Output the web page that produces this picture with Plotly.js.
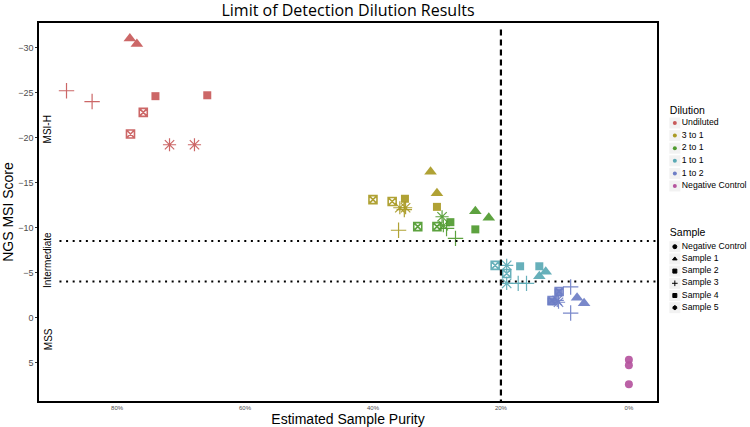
<!DOCTYPE html>
<html>
<head>
<meta charset="utf-8">
<script src="https://cdn.plot.ly/plotly-3.0.1.min.js"></script>
<style>
  html, body { margin: 0; padding: 0; background: #fff; }
  #plot { width: 750px; height: 427px; }
</style>
</head>
<body>
<div id="plot"></div>
<script>
// Data (purity as a fraction, score as plotted).
const dilutionNames = ['Undiluted', '3 to 1', '2 to 1', '1 to 1', '1 to 2', 'Negative Control'];
const sampleNames = ['Negative Control', 'Sample 1', 'Sample 2', 'Sample 3', 'Sample 4', 'Sample 5'];
const dilutionColors = ['#c85a5a', '#a99a24', '#4f9a2f', '#5aa9b4', '#6e7ec6', '#b5549e'];

const pointDilution = [
  'Undiluted', 'Undiluted', 'Undiluted', 'Undiluted', 'Undiluted',
  'Undiluted', 'Undiluted', 'Undiluted', 'Undiluted', 'Undiluted',
  '3 to 1', '3 to 1', '3 to 1', '3 to 1', '3 to 1',
  '3 to 1', '3 to 1', '3 to 1', '3 to 1', '3 to 1',
  '2 to 1', '2 to 1', '2 to 1', '2 to 1', '2 to 1',
  '2 to 1', '2 to 1', '2 to 1', '2 to 1', '2 to 1',
  '1 to 1', '1 to 1', '1 to 1', '1 to 1', '1 to 1',
  '1 to 1', '1 to 1', '1 to 1', '1 to 1', '1 to 1',
  '1 to 2', '1 to 2', '1 to 2', '1 to 2', '1 to 2',
  '1 to 2', '1 to 2', '1 to 2', '1 to 2', '1 to 2',
  'Negative Control', 'Negative Control', 'Negative Control'
];
const pointSample = [
  'Sample 1', 'Sample 1', 'Sample 2', 'Sample 2', 'Sample 3',
  'Sample 3', 'Sample 4', 'Sample 4', 'Sample 5', 'Sample 5',
  'Sample 1', 'Sample 1', 'Sample 2', 'Sample 2', 'Sample 3',
  'Sample 3', 'Sample 4', 'Sample 4', 'Sample 5', 'Sample 5',
  'Sample 1', 'Sample 1', 'Sample 2', 'Sample 2', 'Sample 3',
  'Sample 3', 'Sample 4', 'Sample 4', 'Sample 5', 'Sample 5',
  'Sample 1', 'Sample 1', 'Sample 2', 'Sample 2', 'Sample 3',
  'Sample 3', 'Sample 4', 'Sample 4', 'Sample 5', 'Sample 5',
  'Sample 1', 'Sample 1', 'Sample 2', 'Sample 2', 'Sample 3',
  'Sample 3', 'Sample 4', 'Sample 4', 'Sample 5', 'Sample 5',
  'Negative Control', 'Negative Control', 'Negative Control'
];
const pointPurity = [
  0.780, 0.769, 0.740, 0.659, 0.879, 0.839, 0.759, 0.779, 0.718, 0.679,
  0.310, 0.300, 0.350, 0.300, 0.360, 0.351, 0.400, 0.370, 0.358, 0.349,
  0.240, 0.219, 0.240, 0.279, 0.271, 0.285, 0.330, 0.300, 0.292, 0.290,
  0.140, 0.130, 0.170, 0.140, 0.173, 0.160, 0.209, 0.191, 0.191, 0.191,
  0.081, 0.070, 0.110, 0.121, 0.091, 0.091, 0.109, 0.120, 0.112, 0.110,
  0.000, 0.000, 0.000
];
const pointScore = [
  -31.0, -30.4, -24.6, -24.7, -25.2, -24.0, -22.8, -20.4, -19.2, -19.2,
  -16.2, -13.8, -13.2, -12.3, -9.7, -12.0, -13.1, -12.9, -12.2, -12.2,
  -11.8, -11.1, -9.8, -10.6, -8.8, -9.9, -10.1, -10.1, -11.2, -10.2,
  -4.6, -5.1, -5.7, -5.7, -3.8, -3.8, -5.8, -4.9, -5.8, -3.8,
  -2.2, -1.6, -2.8, -1.8, -3.4, -0.5, -2.9, -1.9, -1.9, -1.7,
  4.7, 5.3, 7.4
];

const xTicks = [0.8, 0.6, 0.4, 0.2, 0];
const yTicks = [-30, -25, -20, -15, -10, -5, 0, 5];

const zoneNames = ['MSI-H', 'Intermediate', 'MSS'];
const zoneScore = [-20.9, -6.4, 2.4];
const cutoffScores = [-8.5, -4];
const cutoffPurity = 0.2;

// Marker look for each sample shape.
const sampleStyle = {
  'Negative Control': { symbol: 'circle', size: 8, lw: 0 },
  'Sample 1': { symbol: 'triangle-up', size: 11, lw: 0 },
  'Sample 2': { symbol: 'square', size: 8, lw: 0 },
  'Sample 3': { symbol: 'cross-thin-open', size: 11, lw: 1.2 },
  'Sample 4': { symbol: 'square-x-open', size: 8, lw: 1.6 },
  'Sample 5': { symbol: 'asterisk-open', size: 11, lw: 1.2 },
};
const legendSymbols = ['circle', 'triangle-up', 'square', 'cross-thin-open', 'square', 'octagon'];

const font = 'Liberation Sans, Arial, sans-serif';
const traces = [];

dilutionNames.forEach((d, di) => {
  sampleNames.forEach((s) => {
    const idx = pointDilution.map((v, i) => i).filter((i) => pointDilution[i] === d && pointSample[i] === s);
    if (idx.length === 0) return;
    const st = sampleStyle[s];
    traces.push({
      type: 'scatter',
      mode: 'markers',
      x: idx.map((i) => pointPurity[i]),
      y: idx.map((i) => pointScore[i]),
      showlegend: false,
      hoverinfo: 'skip',
      marker: {
        symbol: st.symbol,
        size: st.size,
        color: dilutionColors[di],
        opacity: 0.92,
        line: { color: dilutionColors[di], width: st.lw },
      },
    });
  });
});

// Legend drawn in its own little subplot (x2/y2, units are pixels from its top-left).
const keyX = 11, textX = 18, titleX = 6;
const dilTitleY = 88, dilStartY = 100, dilStep = 12.6;
const smpTitleY = 210, smpStartY = 223.7, smpStep = 12.2;
const dilY = dilutionNames.map((d, i) => dilStartY + i * dilStep);
const smpY = sampleNames.map((s, i) => smpStartY + i * smpStep);
const allKeyY = dilY.concat(smpY);

traces.push({
  type: 'scatter', mode: 'markers', xaxis: 'x2', yaxis: 'y2', showlegend: false, hoverinfo: 'skip',
  x: allKeyY.map(() => keyX), y: allKeyY, cliponaxis: false,
  marker: { symbol: 'square', size: 11, color: '#f2f2f2', line: { width: 0 } },
});
traces.push({
  type: 'scatter', mode: 'markers', xaxis: 'x2', yaxis: 'y2', showlegend: false, hoverinfo: 'skip',
  x: dilY.map(() => keyX), y: dilY, cliponaxis: false,
  marker: { symbol: 'circle', size: 4, color: dilutionColors },
});
traces.push({
  type: 'scatter', mode: 'markers', xaxis: 'x2', yaxis: 'y2', showlegend: false, hoverinfo: 'skip',
  x: smpY.map(() => keyX), y: smpY, cliponaxis: false,
  marker: { symbol: legendSymbols, size: 4, color: '#000', line: { color: '#000', width: 1 } },
});
traces.push({
  type: 'scatter', mode: 'text', xaxis: 'x2', yaxis: 'y2', showlegend: false, hoverinfo: 'skip',
  x: allKeyY.map(() => textX), y: allKeyY, cliponaxis: false,
  text: dilutionNames.concat(sampleNames), textposition: 'middle right',
  textfont: { family: font, size: 8.7, color: '#000' },
});
traces.push({
  type: 'scatter', mode: 'text', xaxis: 'x2', yaxis: 'y2', showlegend: false, hoverinfo: 'skip',
  x: [titleX, titleX], y: [dilTitleY, smpTitleY], cliponaxis: false,
  text: ['Dilution', 'Sample'], textposition: 'middle right',
  textfont: { family: font, size: 10.5, color: '#000' },
});

const shapes = cutoffScores.map((v) => ({
  type: 'line', xref: 'x', yref: 'y',
  x0: 0.89, x1: -0.06, y0: v, y1: v,
  line: { color: '#000', width: 2, dash: '2px,4.6px' },
}));
shapes.push({
  type: 'line', xref: 'x', yref: 'y',
  x0: cutoffPurity, x1: cutoffPurity, y0: -32, y1: 10,
  line: { color: '#000', width: 2.2, dash: '6px,4px' },
});

const annotations = zoneNames.map((z, i) => ({
  x: 0.908, y: zoneScore[i], xref: 'x', yref: 'y',
  text: z, showarrow: false, textangle: -90,
  font: { family: font, size: 10, color: '#000' },
}));

// plot area 39..657 px wide inside a 706 px wide region (l=39, r=5)
const layout = {
  width: 750,
  height: 427,
  margin: { l: 39, r: 5, t: 23, b: 26, autoexpand: false },
  paper_bgcolor: '#fff',
  plot_bgcolor: '#fff',
  showlegend: false,
  title: {
    text: 'Limit of Detection Dilution Results',
    font: { family: 'Open Sans, Lato, sans-serif', size: 16, color: '#000' },
    x: 0.464, xanchor: 'center', y: 0.975, yanchor: 'middle',
  },
  xaxis: {
    domain: [0, 0.8754],
    range: [0.922, -0.044],
    tickvals: xTicks,
    tickformat: '.0%',
    tickfont: { family: font, size: 6, color: '#4d4d4d' },
    ticks: '', showgrid: false, zeroline: false,
    showline: true, mirror: true, linecolor: '#000', linewidth: 1.6,
    automargin: false,
    title: { text: 'Estimated Sample Purity', font: { family: font, size: 14, color: '#000' }, standoff: 4 },
  },
  yaxis: {
    range: [9.27, -32.73],
    tickvals: yTicks,
    tickfont: { family: font, size: 9, color: '#4d4d4d' },
    ticks: 'outside', ticklen: 2, tickcolor: '#333', tickwidth: 1,
    showgrid: false, zeroline: false,
    showline: true, mirror: true, linecolor: '#000', linewidth: 1.6,
    automargin: false,
    title: { text: 'NGS MSI Score', font: { family: font, size: 14, color: '#000' }, standoff: 2 },
  },
  xaxis2: {
    domain: [0.885, 1], range: [0, 81], anchor: 'y2',
    visible: false, fixedrange: true,
  },
  yaxis2: {
    domain: [0, 1], range: [378, 0], anchor: 'x2',
    visible: false, fixedrange: true,
  },
  shapes: shapes,
  annotations: annotations,
};

Plotly.newPlot(document.getElementById('plot'), traces, layout, { displayModeBar: false, staticPlot: true });
</script>
</body>
</html>
